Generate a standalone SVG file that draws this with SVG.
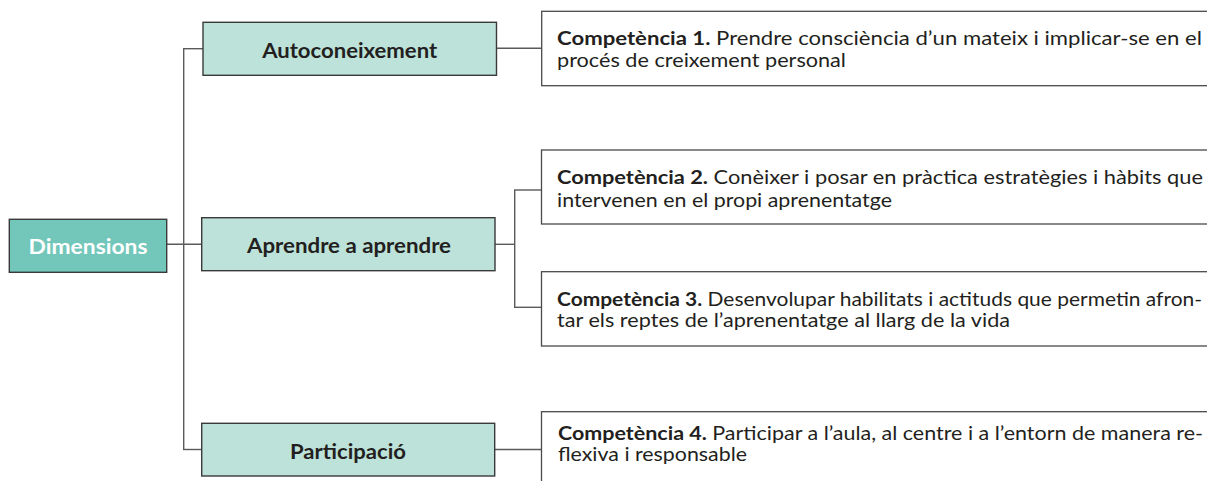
<svg xmlns="http://www.w3.org/2000/svg" width="1207" height="481" viewBox="0 0 1207 481">
<style>
.bg{fill:#ffffff}
.dim{fill:#72c6ba;stroke:#3a3a3a;stroke-width:1.4}
.dlab{fill:#bce2d9;stroke:#3a3a3a;stroke-width:1.4}
.comp{fill:#ffffff;stroke:#4a4a4a;stroke-width:1.3}
.con{fill:none;stroke:#5a5a5a;stroke-width:1.4}
.lbl{font-family:"Lato","Liberation Sans",sans-serif;font-weight:700;font-size:21px;fill:#231f20;text-anchor:middle}
.lblw{font-family:"Lato","Liberation Sans",sans-serif;font-weight:700;font-size:21px;fill:#ffffff;text-anchor:middle}
.txt{font-family:"Lato","Liberation Sans",sans-serif;font-size:19px;fill:#231f20}
.b{font-weight:700}
</style>
<rect class="bg" x="0" y="0" width="1207" height="481"/>
<g id="connectors">
<line class="con" x1="166.7" y1="244.3" x2="201.7" y2="244.3"/>
<line class="con" x1="183.7" y1="48.7" x2="183.7" y2="449.5"/>
<line class="con" x1="183" y1="48.7" x2="203" y2="48.7"/>
<line class="con" x1="183" y1="449.5" x2="201.7" y2="449.5"/>
<line class="con" x1="496.5" y1="48.3" x2="541.7" y2="48.3"/>
<line class="con" x1="495" y1="244.3" x2="514.7" y2="244.3"/>
<line class="con" x1="514.7" y1="190" x2="514.7" y2="307.3"/>
<line class="con" x1="514" y1="190" x2="541.5" y2="190"/>
<line class="con" x1="514" y1="307.3" x2="541.5" y2="307.3"/>
<line class="con" x1="494.7" y1="449.5" x2="541.5" y2="449.5"/>
</g>
<g id="dimensions">
<rect class="dim" x="9.3" y="219.3" width="157.4" height="53"/>
<text class="lblw" x="88" y="254.3" textLength="119" lengthAdjust="spacingAndGlyphs">Dimensions</text>
</g>
<g id="autoconeixement">
<rect class="dlab" x="203" y="22.3" width="293.5" height="53"/>
<text class="lbl" x="349.7" y="58.3" textLength="175" lengthAdjust="spacingAndGlyphs">Autoconeixement</text>
</g>
<g id="aprendre">
<rect class="dlab" x="201.7" y="217.7" width="293.3" height="53"/>
<text class="lbl" x="349" y="252.7" textLength="204" lengthAdjust="spacingAndGlyphs">Aprendre a aprendre</text>
</g>
<g id="participacio">
<rect class="dlab" x="201.7" y="423.3" width="293" height="52.7"/>
<text class="lbl" x="348" y="459" textLength="116" lengthAdjust="spacingAndGlyphs">Participació</text>
</g>
<g id="competencia1">
<rect class="comp" x="541.7" y="11.3" width="700" height="74.4"/>
<text class="txt" x="557" y="44.5" textLength="645" lengthAdjust="spacingAndGlyphs"><tspan class="b">Competència 1.</tspan> Prendre consciència d’un mateix i implicar-se en el</text>
<text class="txt" x="557" y="67" textLength="289" lengthAdjust="spacingAndGlyphs">procés de creixement personal</text>
</g>
<g id="competencia2">
<rect class="comp" x="541.5" y="150" width="700" height="74"/>
<text class="txt" x="557" y="184" textLength="646" lengthAdjust="spacingAndGlyphs"><tspan class="b">Competència 2.</tspan> Conèixer i posar en pràctica estratègies i hàbits que</text>
<text class="txt" x="557" y="207" textLength="335" lengthAdjust="spacingAndGlyphs">intervenen en el propi aprenentatge</text>
</g>
<g id="competencia3">
<rect class="comp" x="541.5" y="271.7" width="700" height="74.3"/>
<text class="txt" x="557" y="305.5" textLength="645" lengthAdjust="spacingAndGlyphs"><tspan class="b">Competència 3.</tspan> Desenvolupar habilitats i actituds que permetin afron-</text>
<text class="txt" x="557" y="327" textLength="453" lengthAdjust="spacingAndGlyphs">tar els reptes de l’aprenentatge al llarg de la vida</text>
</g>
<g id="competencia4">
<rect class="comp" x="541.5" y="411.7" width="700" height="100"/>
<text class="txt" x="558" y="439.5" textLength="645" lengthAdjust="spacingAndGlyphs"><tspan class="b">Competència 4.</tspan> Participar a l’aula, al centre i a l’entorn de manera re-</text>
<text class="txt" x="558" y="461" textLength="189" lengthAdjust="spacingAndGlyphs">flexiva i responsable</text>
</g>
</svg>
